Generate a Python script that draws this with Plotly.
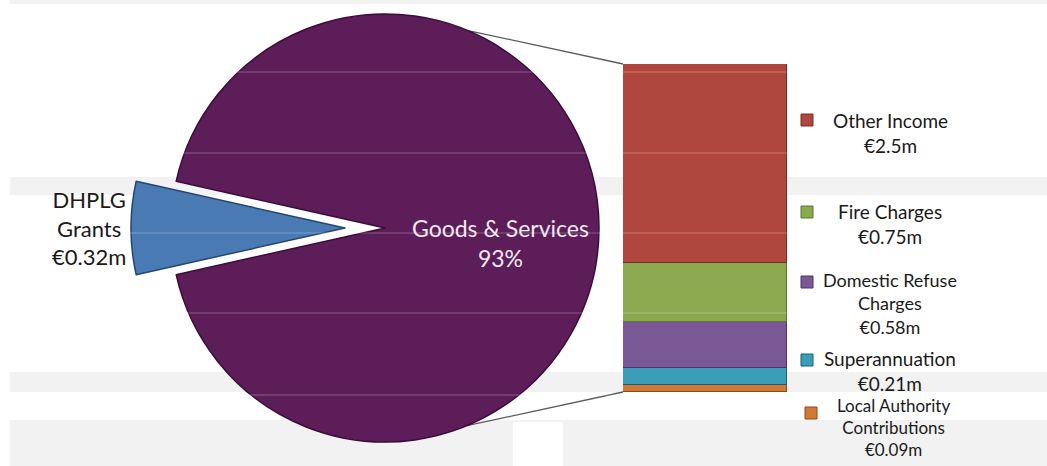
import math
import plotly.graph_objects as go

# ---------------- data ----------------
pie_labels = ["DHPLG Grants", "Goods & Services"]
pie_values = [7, 93]
pie_colors = ["#4A7AB3", "#5C1D59"]
pie_line_colors = ["#23476F", "#3B0C39"]
pie_text = ["DHPLG<br>Grants<br>€0.32m", "Goods & Services<br>93%"]

bar_labels = ["Local Authority Contributions", "Superannuation",
              "Domestic Refuse Charges", "Fire Charges", "Other Income"]
bar_values = [0.09, 0.21, 0.58, 0.75, 2.5]
bar_colors = ["#D27A34", "#3C9DB8", "#7A5896", "#8BAA4F", "#B0473F"]
bar_line_colors = ["#8A4A18", "#1E5F70", "#4C3564", "#5B7630", "#7A2A24"]
bar_text = ["Local Authority<br>Contributions<br>€0.09m",
            "Superannuation<br>€0.21m",
            "Domestic Refuse<br>Charges<br>€0.58m",
            "Fire Charges<br>€0.75m",
            "Other Income<br>€2.5m"]

# ---------------- layout constants (pixels) ----------------
W, H = 1047, 466
FONT = "Lato, 'Open Sans', sans-serif"
cx, cy, R = 385, 228, 214        # pie centre / radius
pull_px = 40                      # exploded slice offset (to the left)
bar_x0, bar_x1 = 623, 787         # stacked bar horizontal extent
bar_top, bar_bot = 64, 392        # stacked bar vertical extent
legend_sw_x = [811, 807, 807, 807, 807]
legend_sw_y = [413, 360, 282, 212, 120]
legend_txt_x = [893, 890, 890, 890, 890]
legend_line1_y = [405, 357, 279, 210, 119]
legend_font = [17, 19, 18, 19, 19]


def px(x):
    return x / W


def py(y):
    return 1 - y / H


fig = go.Figure()

rot = -(90 + pie_values[0] / sum(pie_values) * 360 / 2)

# main pie (exploded slice transparent)
fig.add_trace(go.Pie(
    labels=pie_labels, values=pie_values, sort=False, direction="clockwise",
    rotation=rot,
    marker=dict(colors=["rgba(0,0,0,0)", pie_colors[1]],
                line=dict(color=["rgba(0,0,0,0)", pie_line_colors[1]], width=1.5)),
    textinfo="none", hoverinfo="label+percent", showlegend=False,
    domain=dict(x=[px(cx - R), px(cx + R)], y=[py(cy + R), py(cy - R)]),
))
# exploded slice, shifted left
fig.add_trace(go.Pie(
    labels=pie_labels, values=pie_values, sort=False, direction="clockwise",
    rotation=rot,
    marker=dict(colors=[pie_colors[0], "rgba(0,0,0,0)"],
                line=dict(color=[pie_line_colors[0], "rgba(0,0,0,0)"], width=1.5)),
    textinfo="none", hoverinfo="label+percent", showlegend=False,
    domain=dict(x=[px(cx - pull_px - R), px(cx - pull_px + R)],
                y=[py(cy + R), py(cy - R)]),
))

# stacked bar breakdown
for lab, val, col, lcol in zip(bar_labels, bar_values, bar_colors, bar_line_colors):
    fig.add_trace(go.Bar(
        x=[0], y=[val], name=lab, xaxis="x2", yaxis="y2",
        marker=dict(color=col, line=dict(color=lcol, width=1.5)),
        width=1, showlegend=False, hoverinfo="name+y",
    ))

shapes = []
# faint background bands
for y0, y1 in [(0, 4), (177, 195), (372, 392)]:
    shapes.append(dict(type="rect", xref="paper", yref="paper", layer="below",
                       x0=px(10), x1=1, y0=py(y1), y1=py(y0),
                       fillcolor="#F2F2F2", line=dict(width=0)))
shapes.append(dict(type="rect", xref="paper", yref="paper", layer="below",
                   x0=px(10), x1=1, y0=0, y1=py(420),
                   fillcolor="#F2F2F2", line=dict(width=0)))
shapes.append(dict(type="rect", xref="paper", yref="paper", layer="below",
                   x0=px(513), x1=px(563), y0=0, y1=py(422),
                   fillcolor="#FFFFFF", line=dict(width=0)))

# connector lines from pie to bar (pie edge points at 22.5 deg from vertical)
theta = math.radians(22.5)
ex = cx + R * math.sin(theta)
ey_top = cy - R * math.cos(theta)
ey_bot = cy + R * math.cos(theta)
for (x0, y0, x1, y1) in [(ex, ey_top, bar_x0, bar_top), (ex, ey_bot, bar_x0, bar_bot)]:
    shapes.append(dict(type="line", xref="paper", yref="paper", layer="below",
                       x0=px(x0), y0=py(y0), x1=px(x1), y1=py(y1),
                       line=dict(color="#5A5A5A", width=1.3)))

# faint light scan lines over the graphics
for yl in [72, 153, 233, 313, 395]:
    shapes.append(dict(type="line", xref="paper", yref="paper", layer="above",
                       x0=0, x1=1, y0=py(yl), y1=py(yl),
                       line=dict(color="rgba(255,255,255,0.28)", width=1)))

# legend swatches
for sx, sy, col, lcol in zip(legend_sw_x, legend_sw_y, bar_colors, bar_line_colors):
    shapes.append(dict(type="rect", xref="paper", yref="paper", layer="above",
                       x0=px(sx - 6), x1=px(sx + 6), y0=py(sy + 6), y1=py(sy - 6),
                       fillcolor=col, line=dict(color=lcol, width=1)))

annotations = []
for tx, ty, txt, fs in zip(legend_txt_x, legend_line1_y, bar_text, legend_font):
    annotations.append(dict(xref="paper", yref="paper", x=px(tx), y=py(ty - 12),
                            xanchor="center", yanchor="top", showarrow=False,
                            text=txt, align="center",
                            font=dict(family=FONT, size=fs, color="#1A1A1A")))
annotations.append(dict(xref="paper", yref="paper", x=px(89), y=py(228),
                        xanchor="center", yanchor="middle", showarrow=False,
                        text=pie_text[0], align="center",
                        font=dict(family=FONT, size=22, color="#1A1A1A")))
annotations.append(dict(xref="paper", yref="paper", x=px(500), y=py(243),
                        xanchor="center", yanchor="middle", showarrow=False,
                        text=pie_text[1], align="center",
                        font=dict(family=FONT, size=23, color="#F2E9F1")))

fig.update_layout(
    width=W, height=H, margin=dict(l=0, r=0, t=0, b=0),
    paper_bgcolor="white", plot_bgcolor="rgba(0,0,0,0)",
    barmode="stack", bargap=0,
    xaxis=dict(visible=False),
    yaxis=dict(visible=False),
    xaxis2=dict(domain=[px(bar_x0), px(bar_x1)], range=[-0.5, 0.5], visible=False,
                anchor="y2", fixedrange=True),
    yaxis2=dict(domain=[py(bar_bot), py(bar_top)], range=[0, sum(bar_values)],
                visible=False, anchor="x2", fixedrange=True),
    shapes=shapes, annotations=annotations,
    font=dict(family=FONT),
)

fig.write_html("out.html", config={"displayModeBar": False},
               post_script="document.body.style.margin='0';document.body.style.overflow='hidden';")
